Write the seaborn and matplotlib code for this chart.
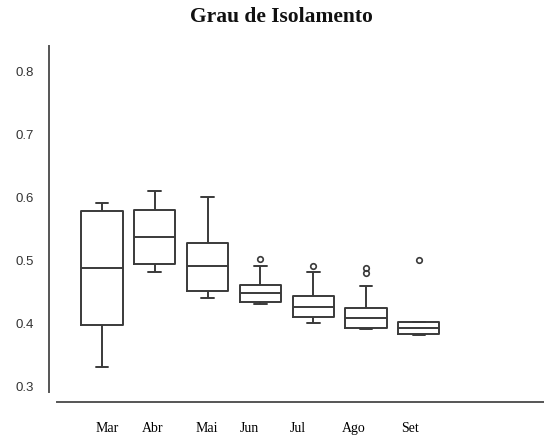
import matplotlib
matplotlib.use("Agg")
import matplotlib.pyplot as plt
import seaborn as sns
import pandas as pd

months = ["Mar", "Abr", "Mai", "Jun", "Jul", "Ago", "Set"]
mar = [0.328, 0.395, 0.486, 0.577, 0.589]
abr = [0.479, 0.492, 0.535, 0.579, 0.608]
mai = [0.439, 0.449, 0.489, 0.526, 0.599]
jun = [0.4288, 0.430, 0.4315, 0.438, 0.4458, 0.452, 0.459, 0.4887, 0.5003]
jul = [0.3986, 0.403, 0.4076, 0.416, 0.4245, 0.433, 0.441, 0.479, 0.4897]
ago = [0.389, 0.3895, 0.390, 0.3906, 0.396, 0.401, 0.406, 0.412, 0.418,
       0.4224, 0.458, 0.478, 0.486]
setb = [0.379, 0.380, 0.3805, 0.386, 0.391, 0.396, 0.3995, 0.4005, 0.4987]
yticks = [0.3, 0.4, 0.5, 0.6, 0.7, 0.8]
title = "Grau de Isolamento"

series = [mar, abr, mai, jun, jul, ago, setb]
df = pd.DataFrame({
    "mes": [m for m, s in zip(months, series) for _ in s],
    "valor": [v for s in series for v in s],
})

sns.set_style("white")
plt.rcParams["font.family"] = ["Liberation Sans", "DejaVu Sans"]

fig = plt.figure(figsize=(5.44, 4.39), dpi=100)
ax = fig.add_axes([49 / 544, 36.3 / 439, 495 / 544, 355.7 / 439])

line_c = "#3a3a3a"
sns.boxplot(data=df, x="mes", y="valor", order=months, ax=ax,
            fill=False, color=line_c, width=0.78, linewidth=1.4,
            whis=1.3, fliersize=4, capwidths=0.24,
            flierprops=dict(marker="o", markerfacecolor="none",
                            markeredgecolor=line_c, markeredgewidth=1.2))

ax.set_xlim(-1.004, 8.37)
ax.set_ylim(0.2735, 0.839)

# tick labels (slightly offset from box centres, as in the original)
label_offsets = [0.095, -0.05, -0.02, -0.2, -0.29, -0.23, -0.17]
ax.set_xticks([i + o for i, o in enumerate(label_offsets)])
ax.set_xticklabels(months, fontfamily="Liberation Serif", fontsize=10,
                   color="#000000")
ax.set_yticks(yticks)
ax.set_yticklabels([f"{t:.1f}" for t in yticks], fontsize=9.5, color="#333333")
ax.tick_params(axis="x", length=0, pad=14)
ax.tick_params(axis="y", length=0, pad=11)
ax.set_xlabel("")
ax.set_ylabel("")

for s in ["top", "right"]:
    ax.spines[s].set_visible(False)
ax.spines["left"].set_bounds(0.289, 0.839)
ax.spines["bottom"].set_bounds(-0.852, 8.37)
for s in ["left", "bottom"]:
    ax.spines[s].set_color("#555555")
    ax.spines[s].set_linewidth(1.4)

fig.text(281.5 / 544, 1 - 17 / 439, title, ha="center", va="center",
         fontfamily="Liberation Serif", fontweight="bold", fontsize=15.5,
         color="#111111")

fig.savefig("out.png", dpi=100)
